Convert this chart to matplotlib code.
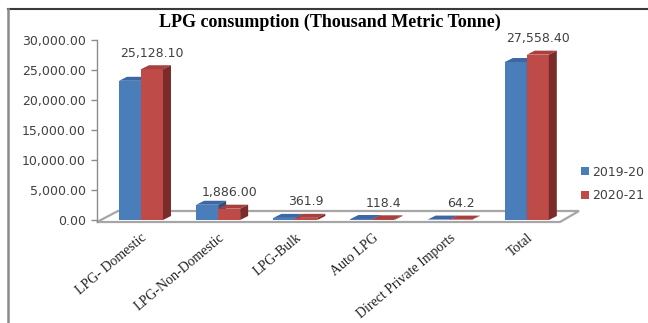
import numpy as np
import matplotlib
matplotlib.use("Agg")
import matplotlib.pyplot as plt
from matplotlib.patches import Polygon, Patch
from matplotlib.lines import Line2D

# LPG consumption, thousand metric tonne
categories = ['LPG- Domestic', 'LPG-Non-Domestic', 'LPG-Bulk', 'Auto LPG',
              'Direct Private Imports', 'Total']
fy2019_20 = [23200.0, 2540.0, 350.0, 170.0, 70.0, 26330.0]
fy2020_21 = [25128.1, 1886.0, 361.9, 118.4, 64.2, 27558.4]
label_decimals = [2, 2, 1, 1, 1, 2]
series_names = ['2019-20', '2020-21']
yticks = [0, 5000, 10000, 15000, 20000, 25000, 30000]

W, H, DPI = 648, 323, 100
fig = plt.figure(figsize=(W / DPI, H / DPI), dpi=DPI)
fig.patch.set_facecolor('white')

# axes box in pixels (left, top, right, bottom)
L, T, R, B = 97, 40, 560, 220
ax = fig.add_axes([L / W, 1 - B / H, (R - L) / W, (B - T) / H])
ax.set_xlim(-0.57, 5.43)
ax.set_ylim(0, 30000)
for s in ax.spines.values():
    s.set_visible(False)
ax.patch.set_alpha(0)

grey_txt = '#404040'
ax.set_yticks(yticks)
ax.set_yticklabels([f'{v:,.2f}' for v in yticks], fontsize=9, color=grey_txt,
                   family='DejaVu Sans')
ax.tick_params(axis='y', length=4, width=1, color='#8c8c8c', pad=4)
ax.set_xticks(range(len(categories)))
ax.set_xticklabels(categories, rotation=40, ha='right', va='top',
                   rotation_mode='anchor', fontsize=10, family='Liberation Serif',
                   color='#202020')
ax.tick_params(axis='x', length=0, pad=8)

# pixel <-> data helpers
to_px = ax.transData.transform
to_data = ax.transData.inverted().transform


def shift(x, y, dx, dy):
    p = to_px((x, y)) + np.array([dx, dy])
    return to_data(p)


# floor slab
fx0, fx1 = ax.get_xlim()
floor = [shift(fx0, 0, 0, -2), shift(fx1, 0, 0, -2),
         shift(fx1, 0, 19, 9), shift(fx0, 0, 21, 9)]
ax.add_patch(Polygon(floor, closed=True, facecolor='white', edgecolor='#a6a6a6',
                     lw=1.6, clip_on=False, zorder=1))

# y axis line
ax.add_line(Line2D([fx0, fx0], [to_data((L, H - 222))[1], 30000], color='#8c8c8c',
                   lw=1, clip_on=False, zorder=2))

bw = 0.285
dx, dy = 8, 4
styles = [
    dict(front='#4a7ebb', top='#3c67a3', side='#2f5284'),
    dict(front='#be4b48', top='#a8403d', side='#7b2c2a'),
]
x = np.arange(len(categories))
for i in range(len(categories)):
    for k, vals in enumerate([fy2019_20, fy2020_21]):
        st = styles[k]
        v = vals[i]
        xl = x[i] - bw + k * bw
        xr = xl + bw
        ax.bar(xl, v, width=bw, align='edge', color=st['front'], zorder=3 + 3 * k,
               clip_on=False)
        top = [(xl, v), (xr, v), shift(xr, v, dx, dy), shift(xl, v, dx, dy)]
        ax.add_patch(Polygon(top, closed=True, facecolor=st['top'], edgecolor='none',
                             zorder=4 + 3 * k, clip_on=False))
        side = [(xr, 0), (xr, v), shift(xr, v, dx, dy), shift(xr, 0, dx, dy)]
        ax.add_patch(Polygon(side, closed=True, facecolor=st['side'], edgecolor='none',
                             zorder=5 + 3 * k, clip_on=False))

# value labels on the 2020-21 series
for i, v in enumerate(fy2020_21):
    ax.annotate(f'{v:,.{label_decimals[i]}f}', xy=(x[i] + bw / 2, v),
                xytext=(0, 7), textcoords='offset points', ha='center', va='bottom',
                fontsize=9, color=grey_txt, family='DejaVu Sans', zorder=10,
                annotation_clip=False)

fig.text(330 / W, 1 - 22 / H, 'LPG consumption (Thousand Metric Tonne)',
         ha='center', va='center', fontsize=13, fontweight='bold',
         family='Liberation Serif', color='black')

handles = [Patch(facecolor=s['front'], edgecolor='none') for s in styles]
fig.legend(handles, series_names, loc='center left',
           bbox_to_anchor=(576 / W, 1 - 184 / H), frameon=False, fontsize=9,
           handlelength=0.65, handleheight=0.65, handletextpad=0.25,
           labelspacing=0.85, borderaxespad=0, labelcolor=grey_txt)

# outer chart frame (top and left edges only)
fig.add_artist(Line2D([8 / W, 1.02], [1 - 9 / H, 1 - 9 / H], transform=fig.transFigure,
                      color='#3a3a3a', lw=1.5))
fig.add_artist(Line2D([8 / W, 8 / W], [-0.02, 1 - 9 / H], transform=fig.transFigure,
                      color='#8a8a8a', lw=1.8))

fig.savefig('out.png', dpi=DPI, facecolor='white')
